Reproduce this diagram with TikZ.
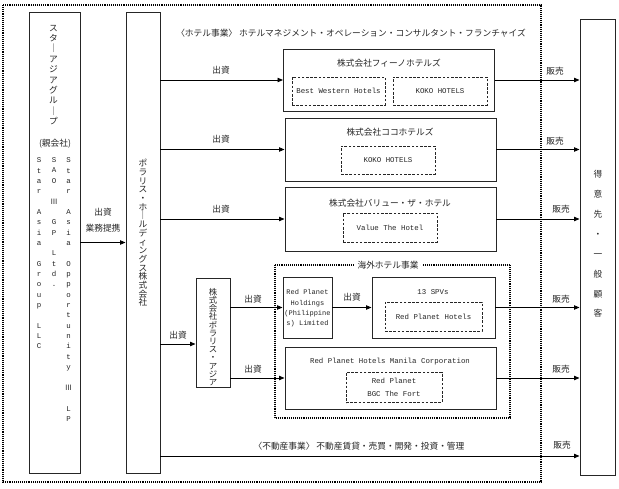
\documentclass[tikz,border=0pt]{standalone}
\usepackage{fontspec}
\setmainfont{Liberation Mono}
\newfontfamily\jp{Noto Sans CJK JP}
\usetikzlibrary{arrows.meta}
\newcommand\vlong{｜}
\newcommand\vtxt[2]{\vbox{\baselineskip=#1\lineskiplimit=-100pt\lineskip=0pt\halign{\hfil##\hfil\cr#2\crcr}}}
\tikzset{
  box/.style={draw=black!85, line width=0.9pt, inner sep=0pt},
  dbox/.style={draw=black!85, line width=0.9pt, dash pattern=on 2.6pt off 1.6pt, inner sep=0pt, align=center},
  outerdot/.style={draw=black, line width=1.4pt, dash pattern=on 1pt off 0.9pt},
  arr/.style={draw=black, line width=0.85pt, -{Triangle[length=5.5pt,width=4.4pt]}},
  jt/.style={font=\jp\fontsize{8.7}{8.7}\selectfont, inner sep=0pt, text=black!85},
  lt/.style={font=\fontsize{7.4}{10.3}\selectfont, inner sep=0pt, text=black!85},
  vlat/.style={font=\fontsize{7.4}{10.35}\selectfont, inner sep=0pt, text=black!85, anchor=north},
}
\begin{document}
\begin{tikzpicture}[x=1pt,y=-1pt]
\useasboundingbox (0,0) rectangle (619,489);
\fill[white] (0,0) rectangle (619,489);
% outer dotted frame
\draw[outerdot] (3,5) rectangle (541,482);
% main boxes
\node[box, minimum width=51pt, minimum height=461pt] (sa) at (54.5,242.5) {};
\node[box, minimum width=34pt, minimum height=461pt] (polhd) at (143,242.5) {};
\node[box, minimum width=35pt, minimum height=456pt] (cust) at (597.5,247) {};
\node[box, minimum width=211pt, minimum height=62pt] (fino) at (389,80) {};
\node[box, minimum width=211pt, minimum height=63pt] (koko) at (390.5,149.5) {};
\node[box, minimum width=211pt, minimum height=64pt] (value) at (390.5,219) {};
\node[box, minimum width=34pt, minimum height=109pt] (pasia) at (213,332.5) {};
\node[box, minimum width=49pt, minimum height=61pt] (rph) at (307.5,307.5) {};
\node[box, minimum width=123pt, minimum height=61pt] (spv) at (433.5,307.5) {};
\node[box, minimum width=211pt, minimum height=62pt] (manila) at (390.5,378) {};
% overseas dotted frame
\draw[outerdot, line width=1.2pt] (275,265) rectangle (510,418);
\node[jt, fill=white, inner xsep=4pt, inner ysep=2pt] (ovl) at (388,265) {海外ホテル事業};
% dashed brand boxes
\node[dbox, minimum width=93pt, minimum height=28pt, lt] (bw) at (338.5,91) {Best Western Hotels};
\node[dbox, minimum width=94pt, minimum height=28pt, lt] (kk1) at (440,91) {KOKO HOTELS};
\node[dbox, minimum width=94pt, minimum height=28pt, lt] (kk2) at (388,160) {KOKO HOTELS};
\node[dbox, minimum width=94pt, minimum height=29pt, lt] (vth) at (390,227.5) {Value The Hotel};
\node[dbox, minimum width=97pt, minimum height=29pt, lt] (rphot) at (433.5,316.5) {Red Planet Hotels};
\node[dbox, minimum width=96pt, minimum height=30pt, lt, font=\fontsize{7.4}{13}\selectfont] (bgc) at (394,387.5) {Red Planet\\BGC The Fort};
% titles
\node[jt] (hotelline) at (351,33) {〈ホテル事業〉\ ホテルマネジメント・オペレーション・コンサルタント・フランチャイズ};
\node[jt] (finot) at (389,63) {株式会社フィーノホテルズ};
\node[jt] (kokot) at (390,132) {株式会社ココホテルズ};
\node[jt] (valuet) at (390,203) {株式会社バリュー・ザ・ホテル};
\node[lt] (spvt) at (433,292) {13 SPVs};
\node[lt] (manilat) at (390,362) {Red Planet Hotels Manila Corporation};
\node[lt, align=center, font=\fontsize{7}{10.3}\selectfont] (rpht) at (307.5,308.5) {Red Planet\\Holdings\\(Philippine\\s) Limited};
\node[jt] (ret) at (359,446) {〈不動産事業〉\ 不動産賃貸・売買・開発・投資・管理};
% vertical texts
\node[jt] (sat) at (53.5,75) {\vtxt{10.4pt}{ス\cr タ\cr \vlong\cr ア\cr ジ\cr ア\cr グ\cr ル\cr \vlong\cr プ}};
\node[jt] (oya) at (55,144) {(親会社)};
\node[vlat] (c1) at (39,157.5) {\vtxt{10.35pt}{S\cr t\cr a\cr r\cr ~\cr A\cr s\cr i\cr a\cr ~\cr G\cr r\cr o\cr u\cr p\cr ~\cr L\cr L\cr C}};
\node[vlat] (c2) at (54,157.5) {\vtxt{10.35pt}{S\cr A\cr O\cr ~\cr {\jp Ⅲ}\cr ~\cr G\cr P\cr ~\cr L\cr t\cr d\cr .}};
\node[vlat] (c3) at (68.5,157.5) {\vtxt{10.35pt}{S\cr t\cr a\cr r\cr ~\cr A\cr s\cr i\cr a\cr ~\cr O\cr p\cr p\cr o\cr r\cr t\cr u\cr n\cr i\cr t\cr y\cr ~\cr {\jp Ⅲ}\cr ~\cr L\cr P}};
\node[jt] (polt) at (143,233) {\vtxt{8.7pt}{ポ\cr ラ\cr リ\cr ス\cr ・\cr ホ\cr \vlong\cr ル\cr デ\cr ィ\cr ン\cr グ\cr ス\cr 株\cr 式\cr 会\cr 社}};
\node[jt, font=\jp\fontsize{8.4}{8.2}\selectfont] (pat) at (213,337) {\vtxt{8.2pt}{株\cr 式\cr 会\cr 社\cr ポ\cr ラ\cr リ\cr ス\cr ・\cr ア\cr ジ\cr ア}};
\node[jt] (custt) at (598,244) {\vtxt{19.9pt}{得\cr 意\cr 先\cr ・\cr 一\cr 般\cr 顧\cr 客}};
% connectors
\draw[arr] (sa.east) -- (polhd.west);
\node[jt] (l0a) at (103,212) {出資};
\node[jt] (l0b) at (103,228) {業務提携};
\draw[arr] (fino.west -| polhd.east) -- (fino.west);
\draw[arr] (koko.west -| polhd.east) -- (koko.west);
\draw[arr] (value.west -| polhd.east) -- (value.west);
\node[jt] (l1) at (221,70) {出資};
\node[jt] (l2) at (221,139) {出資};
\node[jt] (l3) at (221,209) {出資};
\coordinate (paIn) at ([yshift=-11.5pt]pasia.west);
\draw[arr] (paIn -| polhd.east) -- (paIn);
\node[jt] (l4) at (178,335) {出資};
\draw[arr] (rph.west -| pasia.east) -- (rph.west);
\node[jt] (l5) at (253,299) {出資};
\draw[arr] (manila.west -| pasia.east) -- (manila.west);
\node[jt] (l6) at (253,369) {出資};
\draw[arr] (rph.east) -- (spv.west);
\node[jt] (l7) at (352,297) {出資};
% sales
\draw[arr] (fino.east) -- (fino.east -| cust.west);
\draw[arr] (koko.east) -- (koko.east -| cust.west);
\draw[arr] (value.east) -- (value.east -| cust.west);
\draw[arr] (spv.east) -- (spv.east -| cust.west);
\draw[arr] (manila.east) -- (manila.east -| cust.west);
\coordinate (reY) at (0,456);
\draw[arr] (polhd.east |- reY) -- (cust.west |- reY);
\node[jt] (s1) at (555,71) {販売};
\node[jt] (s2) at (555,141) {販売};
\node[jt] (s3) at (561,209) {販売};
\node[jt] (s4) at (561,299) {販売};
\node[jt] (s5) at (561,369) {販売};
\node[jt] (s6) at (562,445) {販売};
\end{tikzpicture}
\end{document}
